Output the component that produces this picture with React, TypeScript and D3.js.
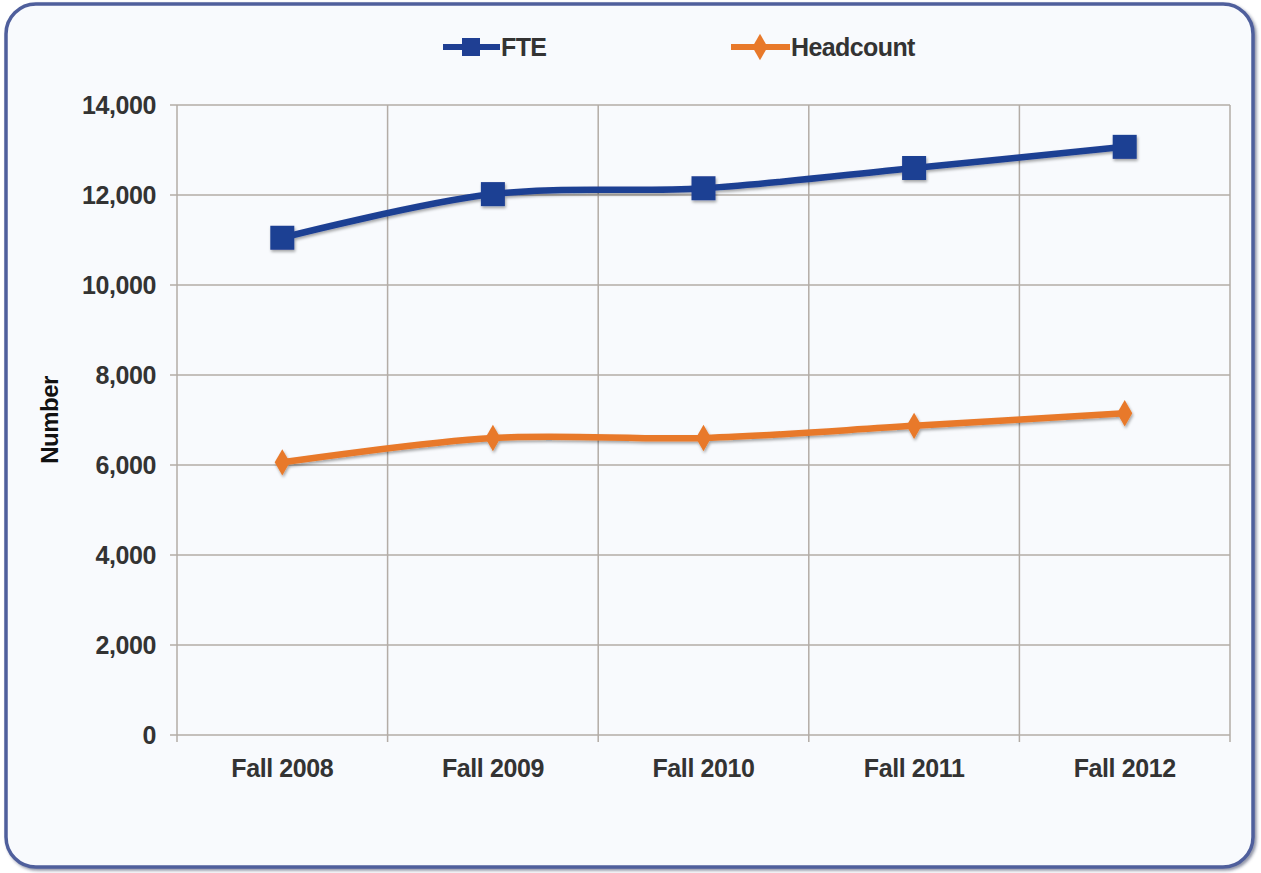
import * as d3 from 'd3'

const categories = ['Fall 2008', 'Fall 2009', 'Fall 2010', 'Fall 2011', 'Fall 2012']
const fteValues = [11050, 12020, 12150, 12600, 13070]
const headcountValues = [6060, 6600, 6600, 6870, 7150]
const yTicks = [0, 2000, 4000, 6000, 8000, 10000, 12000, 14000]

const W = 1261
const H = 873
const plot = { left: 177, right: 1230, top: 105, bottom: 735 }
const font = '"Liberation Sans", Arial, Helvetica, sans-serif'
const gridColor = '#b3aca6'
const textColor = '#333333'

export default function App() {
  const x = d3.scaleBand<string>().domain(categories).range([plot.left, plot.right])
  const y = d3.scaleLinear().domain([0, 14000]).range([plot.bottom, plot.top])
  const cx = (c: string) => (x(c) ?? 0) + x.bandwidth() / 2

  const line = d3.line<number>()
    .x((_, i) => cx(categories[i]))
    .y(d => y(d))
    .curve(d3.curveCatmullRom.alpha(0.5))

  const fmt = d3.format(',')
  const bounds = categories.map(c => x(c) ?? 0).concat([plot.right])
  const diamond = d3.symbol(d3.symbolDiamond, 200)()

  return (
    <svg width={W} height={H} style={{ display: 'block', position: 'absolute', left: 0, top: 0 }}
      fontFamily={font}>
      <defs>
        <filter id="shadow" x="-30%" y="-30%" width="160%" height="160%">
          <feDropShadow dx="1" dy="2" stdDeviation="1.5" floodColor="#000" floodOpacity="0.35" />
        </filter>
        <filter id="frameShadow" x="-5%" y="-5%" width="110%" height="110%">
          <feDropShadow dx="2" dy="2" stdDeviation="1.5" floodColor="#1a2550" floodOpacity="0.5" />
        </filter>
      </defs>
      <rect x={0} y={0} width={W} height={H} fill="#ffffff" />
      <rect x={6} y={4} width={1247} height={863} rx={30} ry={30}
        fill="#f8fafd" stroke="#4f5f9c" strokeWidth={3.5} filter="url(#frameShadow)" />

      {/* legend */}
      <g>
        <line x1={443} x2={500} y1={47} y2={47} stroke="#1f3f93" strokeWidth={6} />
        <rect x={462} y={38} width={18} height={18} fill="#1f3f93" />
        <text x={501} y={56} fontSize={25} fontWeight="bold" letterSpacing={-0.6} fill={textColor}>FTE</text>
        <line x1={731} x2={790} y1={47} y2={47} stroke="#e8792a" strokeWidth={6} />
        <path d={diamond} transform="translate(760,47)" fill="#e8792a" />
        <text x={791} y={56} fontSize={25} fontWeight="bold" letterSpacing={-0.6} fill={textColor}>Headcount</text>
      </g>

      {/* grid */}
      <g stroke={gridColor} strokeWidth={1.5}>
        {yTicks.map(t => (
          <line key={t} x1={plot.left - 7} x2={plot.right} y1={y(t)} y2={y(t)} />
        ))}
        {bounds.map((b, i) => (
          <line key={i} x1={b} x2={b} y1={plot.top} y2={plot.bottom + 7} />
        ))}
      </g>

      {/* y axis labels */}
      <g fontSize={25} fontWeight="bold" fill={textColor} textAnchor="end" letterSpacing={-0.4}>
        {yTicks.map(t => (
          <text key={t} x={156} y={y(t) + 9}>{fmt(t)}</text>
        ))}
      </g>
      <text transform="translate(58,420) rotate(-90)" textAnchor="middle" fontSize={24}
        fontWeight="bold" letterSpacing={-0.5} fill="#111">Number</text>

      {/* x axis labels */}
      <g fontSize={25} fontWeight="bold" fill={textColor} textAnchor="middle" letterSpacing={-0.4}>
        {categories.map(c => (
          <text key={c} x={cx(c)} y={777}>{c}</text>
        ))}
      </g>

      {/* series */}
      <g filter="url(#shadow)">
        <path d={line(headcountValues) ?? ''} fill="none" stroke="#e8792a" strokeWidth={6.5} />
        {headcountValues.map((v, i) => (
          <path key={i} d={diamond} transform={`translate(${cx(categories[i])},${y(v)})`} fill="#e8792a" />
        ))}
        <path d={line(fteValues) ?? ''} fill="none" stroke="#1f3f93" strokeWidth={6.5} />
        {fteValues.map((v, i) => (
          <rect key={i} x={cx(categories[i]) - 12} y={y(v) - 12} width={24} height={24} fill="#1f3f93" />
        ))}
      </g>
    </svg>
  )
}
